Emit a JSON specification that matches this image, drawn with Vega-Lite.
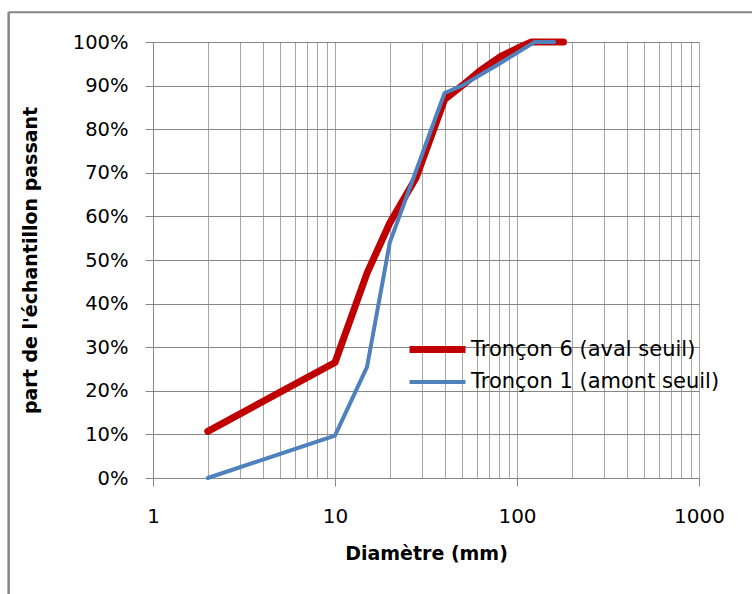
{
  "$schema": "https://vega.github.io/schema/vega-lite/v6.json",
  "width": 546,
  "height": 436,
  "autosize": "none",
  "padding": {"left": 153, "top": 42, "right": 53, "bottom": 116},
  "background": "white",
  "config": {
    "view": {"stroke": null},
    "font": "DejaVu Sans"
  },
  "datasets": {
    "granulo": [
      {"serie": "Tronçon 6 (aval seuil)", "d": 2, "p": 0.107},
      {"serie": "Tronçon 6 (aval seuil)", "d": 10, "p": 0.265},
      {"serie": "Tronçon 6 (aval seuil)", "d": 15, "p": 0.47},
      {"serie": "Tronçon 6 (aval seuil)", "d": 20, "p": 0.585},
      {"serie": "Tronçon 6 (aval seuil)", "d": 28, "p": 0.69},
      {"serie": "Tronçon 6 (aval seuil)", "d": 40, "p": 0.868},
      {"serie": "Tronçon 6 (aval seuil)", "d": 50, "p": 0.9},
      {"serie": "Tronçon 6 (aval seuil)", "d": 63, "p": 0.935},
      {"serie": "Tronçon 6 (aval seuil)", "d": 80, "p": 0.965},
      {"serie": "Tronçon 6 (aval seuil)", "d": 100, "p": 0.985},
      {"serie": "Tronçon 6 (aval seuil)", "d": 120, "p": 1.0},
      {"serie": "Tronçon 6 (aval seuil)", "d": 180, "p": 1.0},
      {"serie": "Tronçon 1 (amont seuil)", "d": 2, "p": 0.0},
      {"serie": "Tronçon 1 (amont seuil)", "d": 10, "p": 0.097},
      {"serie": "Tronçon 1 (amont seuil)", "d": 15, "p": 0.255},
      {"serie": "Tronçon 1 (amont seuil)", "d": 20, "p": 0.54},
      {"serie": "Tronçon 1 (amont seuil)", "d": 40, "p": 0.883},
      {"serie": "Tronçon 1 (amont seuil)", "d": 50, "p": 0.9},
      {"serie": "Tronçon 1 (amont seuil)", "d": 63, "p": 0.925},
      {"serie": "Tronçon 1 (amont seuil)", "d": 80, "p": 0.95},
      {"serie": "Tronçon 1 (amont seuil)", "d": 100, "p": 0.975},
      {"serie": "Tronçon 1 (amont seuil)", "d": 125, "p": 1.0},
      {"serie": "Tronçon 1 (amont seuil)", "d": 160, "p": 1.0}
    ]
  },
  "data": {"name": "granulo"},
  "layer": [
    {
      "description": "chart-area frame, left edge",
      "data": {"values": [{}]},
      "mark": {"type": "rule", "color": "#868686", "strokeWidth": 2.5, "clip": false},
      "encoding": {
        "x": {"datum": 0.161, "type": "quantitative", "scale": {"type": "log", "domain": [1, 1000], "nice": false}},
        "y": {"datum": 1.068, "type": "quantitative", "scale": {"domain": [0, 1], "nice": false}},
        "y2": {"datum": -0.5}
      }
    },
    {
      "description": "chart-area frame, top edge",
      "data": {"values": [{}]},
      "mark": {"type": "rule", "color": "#868686", "strokeWidth": 2, "clip": false},
      "encoding": {
        "x": {"datum": 0.161, "type": "quantitative"},
        "x2": {"datum": 6000},
        "y": {"datum": 1.068, "type": "quantitative"}
      }
    },
    {
      "transform": [{"filter": "datum.serie == 'Tronçon 6 (aval seuil)'"}],
      "mark": {"type": "line", "strokeCap": "round", "strokeJoin": "round"},
      "encoding": {
        "x": {
          "field": "d",
          "type": "quantitative",
          "scale": {"type": "log", "domain": [1, 1000], "nice": false},
          "axis": {
            "values": [1, 2, 3, 4, 5, 6, 7, 8, 9, 10, 20, 30, 40, 50, 60, 70, 80, 90, 100, 200, 300, 400, 500, 600, 700, 800, 900, 1000],
            "format": "d",
            "labelExpr": "datum.value == 1 || datum.value == 10 || datum.value == 100 || datum.value == 1000 ? datum.label : ''",
            "labelOverlap": false,
            "labelFlush": false,
            "labelFontSize": 20,
            "labelColor": "#000000",
            "labelPadding": 20,
            "tickSize": 8,
            "tickColor": "#868686",
            "tickOpacity": {"condition": {"test": "datum.value == 1 || datum.value == 10 || datum.value == 100 || datum.value == 1000", "value": 1}, "value": 0},
            "domainColor": "#868686",
            "grid": true,
            "gridColor": "#a6a6a6",
            "gridOpacity": 1,
            "title": "Diamètre (mm)",
            "titleFontSize": 19,
            "titleFontWeight": "bold",
            "titleColor": "#000000",
            "titleX": 273,
            "titleY": 75,
            "titleBaseline": "middle",
            "titleAlign": "center"
          }
        },
        "y": {
          "field": "p",
          "type": "quantitative",
          "scale": {"domain": [0, 1], "nice": false},
          "axis": {
            "values": [0, 0.1, 0.2, 0.3, 0.4, 0.5, 0.6, 0.7, 0.8, 0.9, 1],
            "format": ".0%",
            "labelFontSize": 19.5,
            "labelColor": "#000000",
            "labelPadding": 17,
            "tickSize": 8,
            "tickColor": "#868686",
            "domainColor": "#868686",
            "grid": true,
            "gridColor": "#868686",
            "gridOpacity": 1,
            "title": "part de l'échantillon passant",
            "titleFontSize": 19,
            "titleFontWeight": "bold",
            "titleColor": "#000000",
            "titleAngle": -90,
            "titleX": -123,
            "titleY": 218,
            "titleBaseline": "middle",
            "titleAlign": "center"
          }
        },
        "color": {
          "field": "serie",
          "type": "nominal",
          "scale": {"domain": ["Tronçon 6 (aval seuil)", "Tronçon 1 (amont seuil)"], "range": ["#c00000", "#4f81bd"]},
          "legend": {
            "title": null,
            "orient": "none",
            "legendX": 267,
            "legendY": 290,
            "padding": 0,
            "symbolType": "M-2,0H2",
            "symbolSize": 784,
            "rowPadding": 2,
            "labelFontSize": 21,
            "labelColor": "#000000",
            "labelOffset": 16,
            "labelLimit": 400
          }
        },
        "strokeWidth": {
          "field": "serie",
          "type": "nominal",
          "scale": {"domain": ["Tronçon 6 (aval seuil)", "Tronçon 1 (amont seuil)"], "range": [7, 4]},
          "legend": {
            "title": null,
            "orient": "none",
            "legendX": 267,
            "legendY": 290,
            "padding": 0,
            "symbolType": "M-2,0H2",
            "symbolSize": 784,
            "rowPadding": 2,
            "labelFontSize": 21,
            "labelColor": "#000000",
            "labelOffset": 16,
            "labelLimit": 400
          }
        }
      }
    },
    {
      "transform": [{"filter": "datum.serie == 'Tronçon 1 (amont seuil)'"}],
      "mark": {"type": "line", "strokeCap": "round", "strokeJoin": "round"},
      "encoding": {
        "x": {"field": "d", "type": "quantitative"},
        "y": {"field": "p", "type": "quantitative"},
        "color": {"field": "serie", "type": "nominal"},
        "strokeWidth": {"field": "serie", "type": "nominal"}
      }
    }
  ]
}
